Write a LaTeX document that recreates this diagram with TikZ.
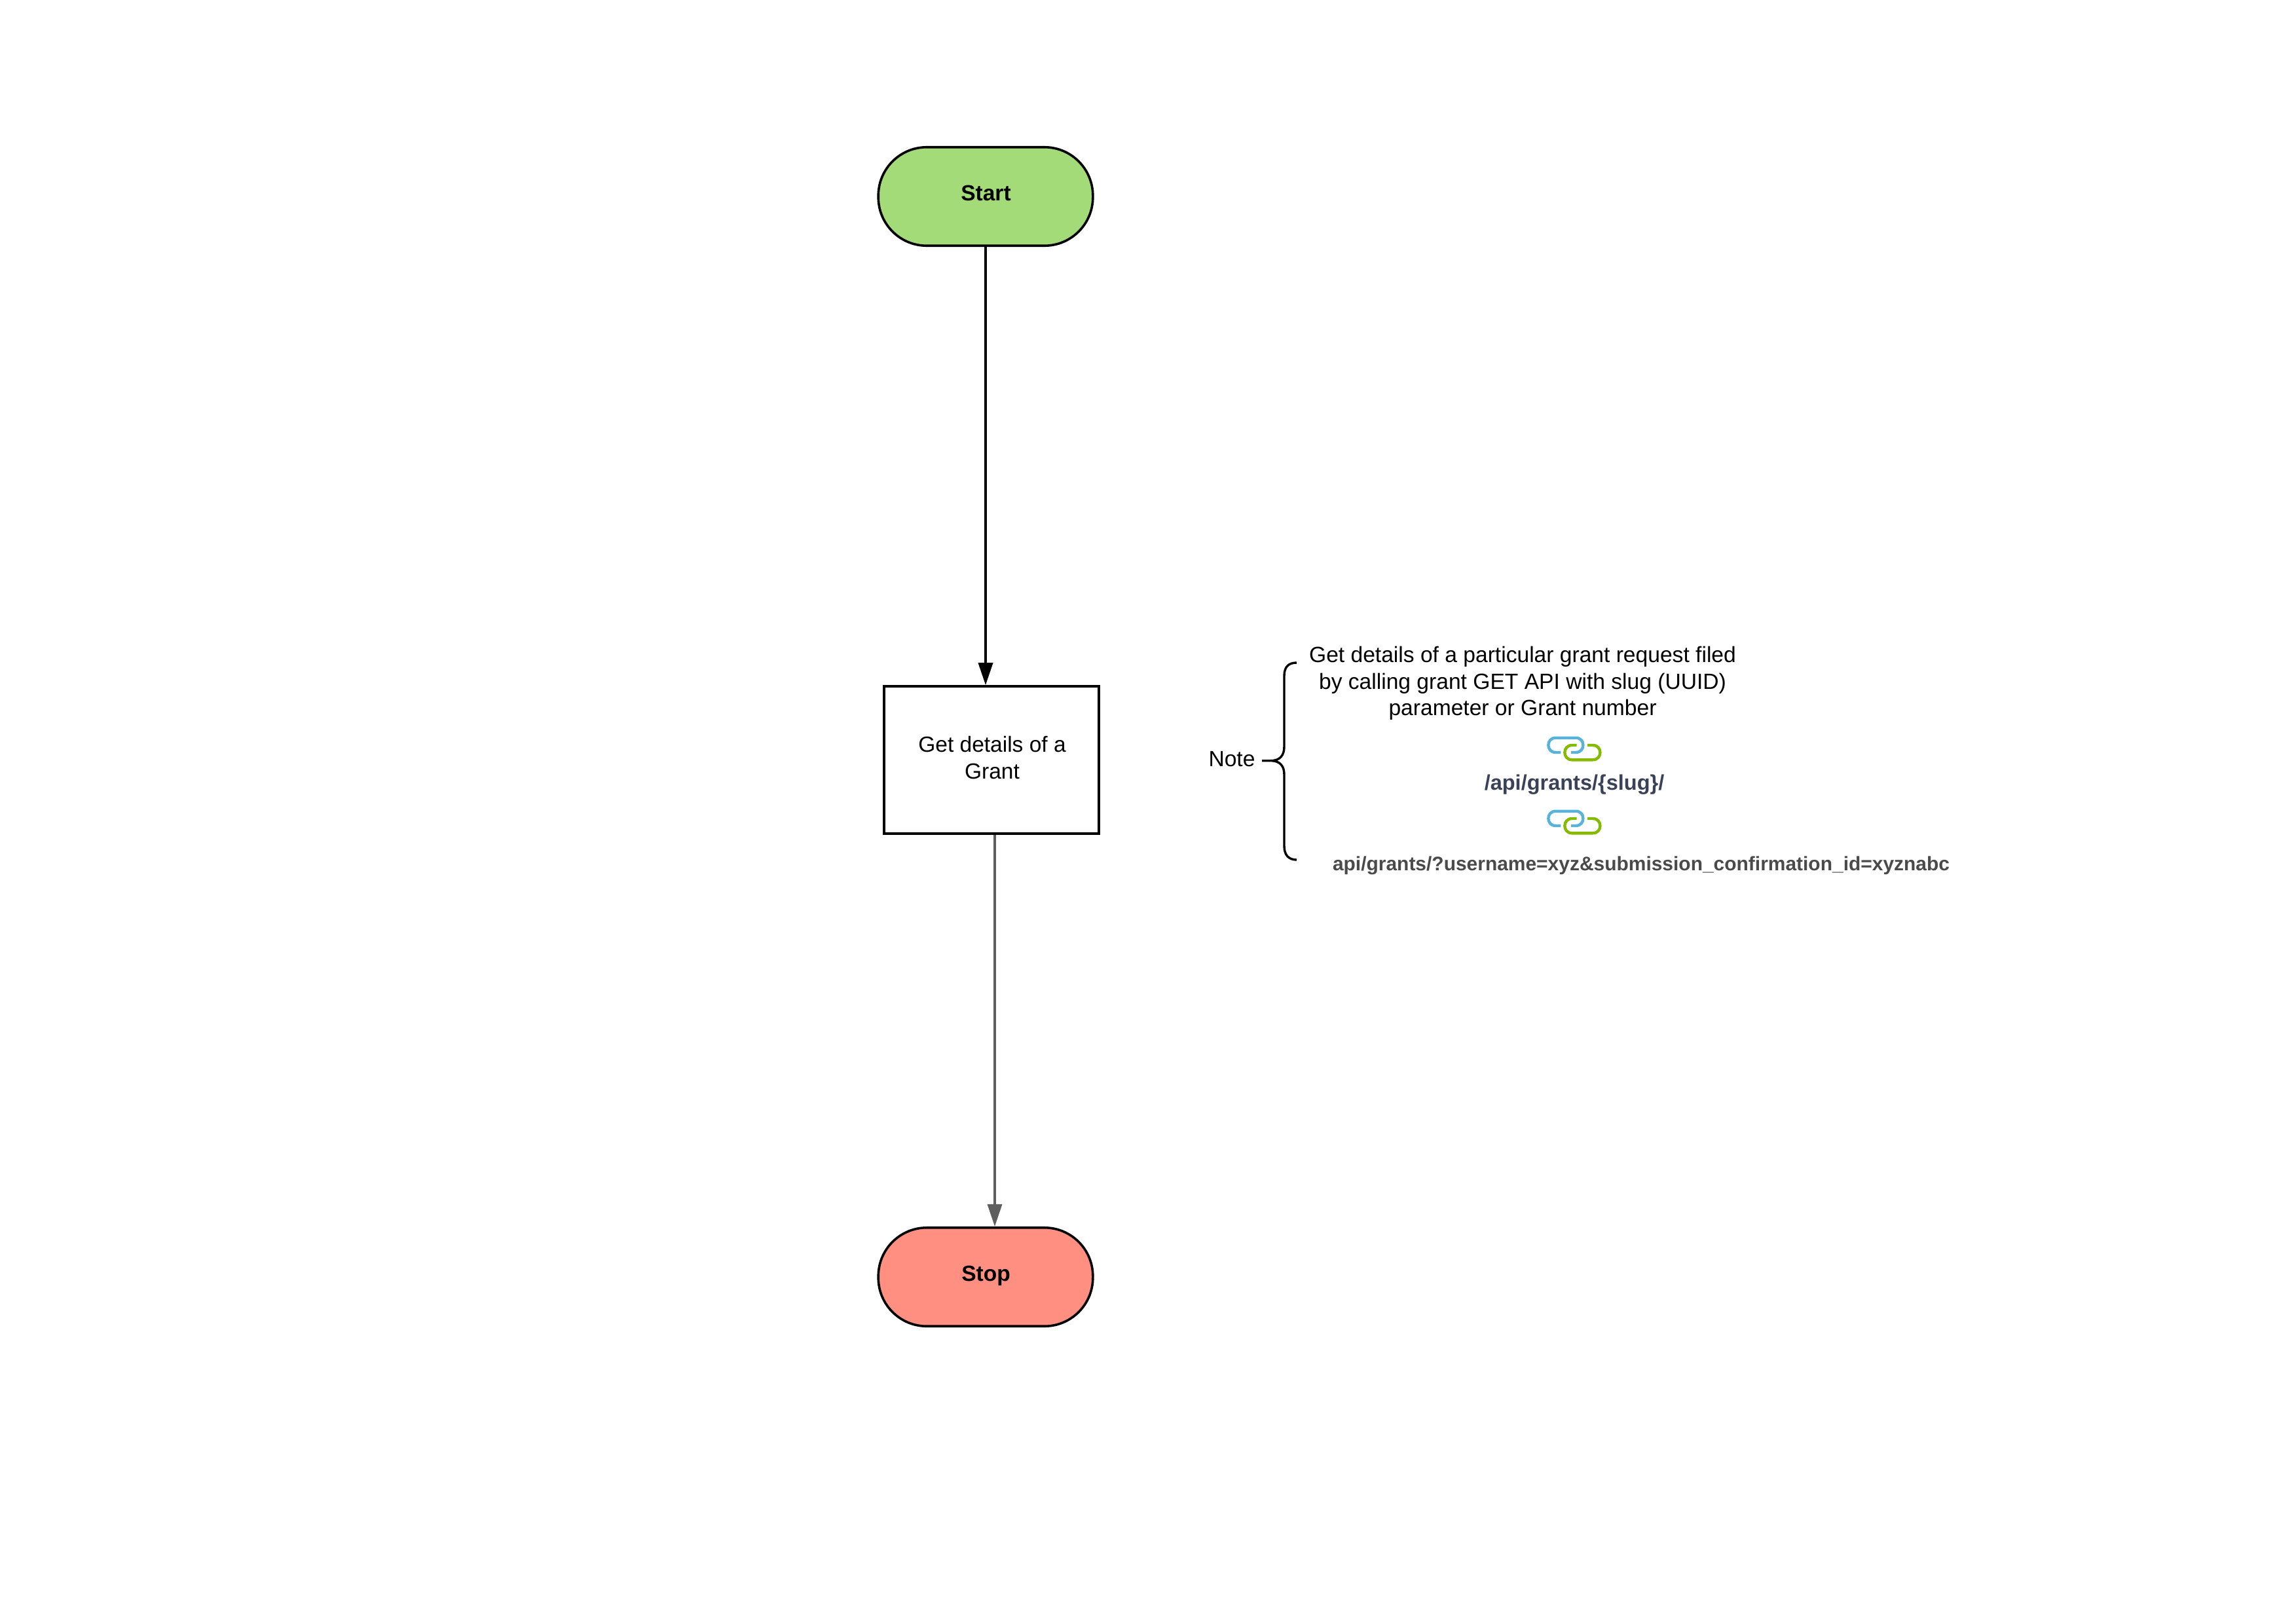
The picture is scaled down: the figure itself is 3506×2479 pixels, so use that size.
\documentclass[tikz,border=0pt]{standalone}
\usepackage{fontspec}
\setmainfont{Liberation Sans}
\usetikzlibrary{arrows.meta}
\definecolor{startgreen}{HTML}{A3DB78}
\definecolor{stopred}{HTML}{FF8F80}
\definecolor{greyline}{HTML}{5E5E5E}
\definecolor{linkblue}{HTML}{56B4DC}
\definecolor{linkgreen}{HTML}{84BB00}
\definecolor{slugtext}{HTML}{3A4257}
\definecolor{querytext}{HTML}{4A4A4A}
\tikzset{
  x=1pt,y=-1pt,
  terminal/.style={draw=black,line width=3.6pt,rounded corners=74pt,minimum width=327.6pt,minimum height=150.5pt,inner sep=0pt,text height=24pt,text depth=11pt,font=\fontsize{33.5pt}{41pt}\selectfont\bfseries},
  process/.style={draw=black,line width=3.6pt,minimum width=328pt,minimum height=225pt,inner sep=0pt,align=center,font=\fontsize{33.5pt}{41pt}\selectfont},
  notetext/.style={inner sep=0pt,anchor=base,align=center,font=\fontsize{33.6pt}{41pt}\selectfont},
  blackflow/.style={draw=black,line width=3.6pt,-{Triangle[length=34pt,width=22pt]}},
  greyflow/.style={draw=greyline,line width=3.3pt,-{Triangle[length=34pt,width=22pt]}},
  bracket/.style={draw=black,line width=3.4pt},
  linkicon/.pic={
    \draw[linkblue,line width=4.4pt] (83.3,49)--(75.5,49) .. controls (60.6,49) and (60.6,26.7) .. (75.5,26.7) -- (106.2,26.7) .. controls (121.1,26.7) and (121.1,49) .. (106.2,49) -- (99,49);
    \draw[linkgreen,line width=4.4pt] (107.7,38)--(100.5,38) .. controls (85.6,38) and (85.6,60.3) .. (100.5,60.3) -- (132.2,60.3) .. controls (147.1,60.3) and (147.1,38) .. (132.2,38) -- (124,38);
  }
}
\begin{document}
\begin{tikzpicture}
\useasboundingbox[fill=white] (0,0) rectangle (3506,2479);
\node[terminal,fill=startgreen] (start) at (1505,300) {\hspace{1pt}Start};
\node[process,fill=white] (grant) at (1514,1160.5) {\hspace{2pt}Get details of a\\\hspace{2pt}Grant\rule[-8pt]{0pt}{8pt}};
\node[terminal,fill=stopred] (stop) at (1505,1950) {\hspace{1pt}Stop};
\coordinate (grantout) at (1519,1275);
\draw[blackflow] (start.south) -- (start.south |- grant.north);
\draw[greyflow] (grantout) -- (grantout |- stop.north);
\node[notetext] (note) at (1881,1170) {Note};
\draw[bracket] (1980,1012) .. controls (1968,1012) and (1961,1018) .. (1961,1032)
  -- (1961,1140) .. controls (1961,1153) and (1955,1161.7) .. (1940,1161.7) -- (1927,1161.7)
  -- (1940,1161.7) .. controls (1955,1161.7) and (1961,1170) .. (1961,1183)
  -- (1961,1292) .. controls (1961,1306) and (1968,1313) .. (1980,1313);
\node[notetext] (desc1) at (2325,1011.5) {Get details of a particular grant request filed};
\node[notetext] (desc2) at (2325,1052.5) {by calling grant GET API with slug (UUID)};
\node[notetext] (desc3) at (2325,1092.5) {parameter or Grant number};
\pic at (2300,1100) {linkicon};
\node[notetext,text=slugtext,font=\fontsize{32.5pt}{41pt}\selectfont\bfseries] (slug) at (2404,1206) {/api/grants/\{slug\}/};
\pic at (2300,1212) {linkicon};
\node[notetext,text=querytext,font=\fontsize{29.95pt}{41pt}\selectfont\bfseries] (query) at (2506,1329) {api/grants/?username=xyz\&submission\_confirmation\_id=xyznabc};
\end{tikzpicture}
\end{document}
